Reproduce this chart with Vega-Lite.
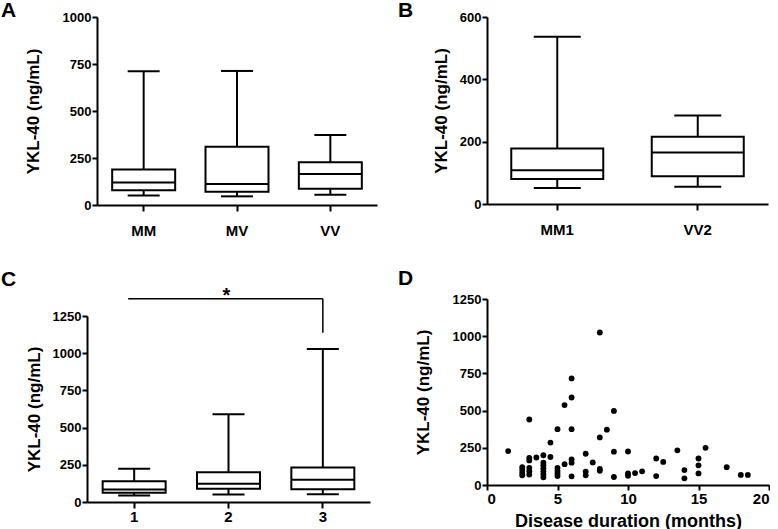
{
  "$schema": "https://vega.github.io/schema/vega-lite/v6.json",
  "padding": 0,
  "background": "white",
  "config": {
    "font": "Liberation Sans",
    "view": {"stroke": null},
    "tick": {"opacity": 1},
    "axis": {
      "grid": false,
      "domainColor": "black",
      "domainWidth": 2,
      "tickColor": "black",
      "tickWidth": 2,
      "tickSize": 5,
      "labelFont": "Liberation Sans",
      "labelFontWeight": "bold",
      "labelFontSize": 13,
      "labelColor": "black",
      "labelPadding": 1,
      "labelOverlap": false,
      "titleFont": "Liberation Sans",
      "titleFontWeight": "bold",
      "titleFontSize": 17,
      "titleColor": "black"
    },
    "title": {
      "font": "Liberation Sans",
      "fontSize": 21,
      "fontWeight": "bold",
      "color": "black",
      "anchor": "start",
      "frame": "group",
      "offset": 0
    }
  },
  "datasets": {
    "a": [
      {"group": "MM", "min": 50, "q1": 78, "median": 120, "q3": 189, "max": 711},
      {"group": "MV", "min": 46, "q1": 71, "median": 112, "q3": 310, "max": 713},
      {"group": "VV", "min": 55, "q1": 87, "median": 165, "q3": 228, "max": 373}
    ],
    "b": [
      {"group": "MM1", "min": 51, "q1": 80, "median": 108, "q3": 178, "max": 537},
      {"group": "VV2", "min": 55, "q1": 89, "median": 165, "q3": 216, "max": 284}
    ],
    "c": [
      {"group": "1", "min": 44, "q1": 63, "median": 84, "q3": 140, "max": 224},
      {"group": "2", "min": 51, "q1": 89, "median": 123, "q3": 200, "max": 590},
      {"group": "3", "min": 52, "q1": 85, "median": 150, "q3": 232, "max": 1028}
    ],
    "sig": [
      {"from": "1", "to": "3", "mid": "2", "y": 1366, "ylow": 1138, "label": "*"}
    ],
    "d": [
      {"months": 1.5, "ykl": 228},
      {"months": 2.5, "ykl": 120}, {"months": 2.5, "ykl": 100}, {"months": 2.5, "ykl": 82}, {"months": 2.5, "ykl": 65},
      {"months": 3, "ykl": 440}, {"months": 3, "ykl": 182}, {"months": 3, "ykl": 165}, {"months": 3, "ykl": 115}, {"months": 3, "ykl": 92}, {"months": 3, "ykl": 70},
      {"months": 3.5, "ykl": 185},
      {"months": 4, "ykl": 200}, {"months": 4, "ykl": 150}, {"months": 4, "ykl": 132}, {"months": 4, "ykl": 112}, {"months": 4, "ykl": 92}, {"months": 4, "ykl": 72}, {"months": 4, "ykl": 52},
      {"months": 4.5, "ykl": 285}, {"months": 4.5, "ykl": 188},
      {"months": 5, "ykl": 375}, {"months": 5, "ykl": 115}, {"months": 5, "ykl": 95}, {"months": 5, "ykl": 78}, {"months": 5, "ykl": 60},
      {"months": 5.5, "ykl": 537}, {"months": 5.5, "ykl": 140},
      {"months": 6, "ykl": 716}, {"months": 6, "ykl": 588}, {"months": 6, "ykl": 375}, {"months": 6, "ykl": 172}, {"months": 6, "ykl": 150}, {"months": 6, "ykl": 58},
      {"months": 7, "ykl": 210}, {"months": 7, "ykl": 90}, {"months": 7, "ykl": 65},
      {"months": 7.5, "ykl": 152},
      {"months": 8, "ykl": 1025}, {"months": 8, "ykl": 320}, {"months": 8, "ykl": 108}, {"months": 8, "ykl": 96},
      {"months": 8.5, "ykl": 372},
      {"months": 9, "ykl": 498}, {"months": 9, "ykl": 224}, {"months": 9, "ykl": 54},
      {"months": 10, "ykl": 225}, {"months": 10, "ykl": 78}, {"months": 10, "ykl": 62},
      {"months": 10.5, "ykl": 80},
      {"months": 11, "ykl": 92},
      {"months": 12, "ykl": 178}, {"months": 12, "ykl": 60},
      {"months": 12.5, "ykl": 155},
      {"months": 13.5, "ykl": 233},
      {"months": 14, "ykl": 100}, {"months": 14, "ykl": 45},
      {"months": 15, "ykl": 178}, {"months": 15, "ykl": 132}, {"months": 15, "ykl": 78},
      {"months": 15.5, "ykl": 250},
      {"months": 17, "ykl": 120},
      {"months": 18, "ykl": 68}, {"months": 18.5, "ykl": 68}
    ]
  },
  "spacing": 21,
  "hconcat": [
    {
      "columns": 2,
      "align": "none",
      "spacing": {"row": 31, "column": 0},
      "concat": [
        {"width": 1, "height": 1, "data": {"values": []}, "mark": "point"},
        {
          "width": 280,
          "height": 188,
          "title": {"text": "A", "dx": -96, "dy": 14},
          "data": {"name": "a"},
          "encoding": {
            "x": {"field": "group", "type": "nominal", "sort": null,
                  "scale": {"paddingInner": 0, "paddingOuter": 0},
                  "axis": {"title": null, "labelAngle": 0, "labelFontSize": 15, "labelPadding": 12, "tickSize": 6}}
          },
          "layer": [
            {"mark": {"type": "rule", "color": "black", "strokeWidth": 2},
             "encoding": {"y": {"field": "min", "type": "quantitative", "title": "YKL-40 (ng/mL)",
                                "scale": {"domain": [0, 1000], "nice": false},
                                "axis": {"values": [0, 250, 500, 750, 1000], "format": "d", "titlePadding": 20}},
                          "y2": {"field": "max"}}},
            {"mark": {"type": "tick", "color": "black", "size": 32, "thickness": 2, "opacity": 1},
             "encoding": {"y": {"field": "min", "type": "quantitative", "title": "YKL-40 (ng/mL)"}}},
            {"mark": {"type": "tick", "color": "black", "size": 32, "thickness": 2, "opacity": 1},
             "encoding": {"y": {"field": "max", "type": "quantitative", "title": "YKL-40 (ng/mL)"}}},
            {"mark": {"type": "bar", "fill": "white", "stroke": "black", "strokeWidth": 2, "size": 63},
             "encoding": {"y": {"field": "q1", "type": "quantitative", "title": "YKL-40 (ng/mL)"}, "y2": {"field": "q3"}}},
            {"mark": {"type": "tick", "color": "black", "size": 63, "thickness": 2, "opacity": 1},
             "encoding": {"y": {"field": "median", "type": "quantitative", "title": "YKL-40 (ng/mL)"}}}
          ]
        },
        {"width": 1, "height": 1, "data": {"values": []}, "mark": "point"},
        {
          "width": 283,
          "height": 186,
          "title": {"text": "C", "dx": -86, "dy": 8.5},
          "data": {"name": "c"},
          "resolve": {"axis": {"y": "independent"}},
          "encoding": {
            "x": {"field": "group", "type": "nominal", "sort": null,
                  "scale": {"paddingInner": 0, "paddingOuter": 0},
                  "axis": {"title": null, "labelAngle": 0, "labelFontSize": 15, "labelPadding": 1, "tickSize": 6}}
          },
          "layer": [
            {"mark": {"type": "rule", "color": "black", "strokeWidth": 2},
             "encoding": {"y": {"field": "min", "type": "quantitative", "title": "YKL-40 (ng/mL)",
                                "scale": {"domain": [0, 1250], "nice": false},
                                "axis": {"values": [0, 250, 500, 750, 1000, 1250], "format": "d", "titlePadding": 9}},
                          "y2": {"field": "max"}}},
            {"mark": {"type": "tick", "color": "black", "size": 32, "thickness": 2, "opacity": 1},
             "encoding": {"y": {"field": "min", "type": "quantitative", "axis": null}}},
            {"mark": {"type": "tick", "color": "black", "size": 32, "thickness": 2, "opacity": 1},
             "encoding": {"y": {"field": "max", "type": "quantitative", "axis": null}}},
            {"mark": {"type": "bar", "fill": "white", "stroke": "black", "strokeWidth": 2, "size": 63},
             "encoding": {"y": {"field": "q1", "type": "quantitative", "axis": null}, "y2": {"field": "q3"}}},
            {"mark": {"type": "tick", "color": "black", "size": 63, "thickness": 2, "opacity": 1},
             "encoding": {"y": {"field": "median", "type": "quantitative", "axis": null}}},
            {"data": {"name": "sig"},
             "mark": {"type": "rule", "color": "black", "strokeWidth": 1.5, "xOffset": -6},
             "encoding": {"x": {"field": "from", "type": "nominal", "title": null}, "x2": {"field": "to"},
                          "y": {"field": "y", "type": "quantitative", "axis": null}}},
            {"data": {"name": "sig"},
             "mark": {"type": "rule", "color": "black", "strokeWidth": 1.5},
             "encoding": {"x": {"field": "to", "type": "nominal", "title": null},
                          "y": {"field": "ylow", "type": "quantitative", "axis": null}, "y2": {"field": "y"}}},
            {"data": {"name": "sig"},
             "mark": {"type": "text", "font": "Liberation Sans", "fontWeight": "bold", "fontSize": 20, "baseline": "alphabetic", "dy": 3, "dx": -2, "color": "black"},
             "encoding": {"x": {"field": "mid", "type": "nominal", "title": null},
                          "y": {"field": "y", "type": "quantitative", "axis": null},
                          "text": {"field": "label"}}}
          ]
        }
      ]
    },
    {
      "spacing": 31,
      "vconcat": [
        {
          "width": 281,
          "height": 187,
          "title": {"text": "B", "dx": -89, "dy": 14},
          "data": {"name": "b"},
          "encoding": {
            "x": {"field": "group", "type": "nominal", "sort": null,
                  "scale": {"paddingInner": 0, "paddingOuter": 0},
                  "axis": {"title": null, "labelAngle": 0, "labelFontSize": 15, "labelPadding": 12, "tickSize": 6}}
          },
          "layer": [
            {"mark": {"type": "rule", "color": "black", "strokeWidth": 2},
             "encoding": {"y": {"field": "min", "type": "quantitative", "title": "YKL-40 (ng/mL)",
                                "scale": {"domain": [0, 600], "nice": false},
                                "axis": {"values": [0, 200, 400, 600], "format": "d", "titlePadding": 9}},
                          "y2": {"field": "max"}}},
            {"mark": {"type": "tick", "color": "black", "size": 47, "thickness": 2, "opacity": 1},
             "encoding": {"y": {"field": "min", "type": "quantitative", "title": "YKL-40 (ng/mL)"}}},
            {"mark": {"type": "tick", "color": "black", "size": 47, "thickness": 2, "opacity": 1},
             "encoding": {"y": {"field": "max", "type": "quantitative", "title": "YKL-40 (ng/mL)"}}},
            {"mark": {"type": "bar", "fill": "white", "stroke": "black", "strokeWidth": 2, "size": 92},
             "encoding": {"y": {"field": "q1", "type": "quantitative", "title": "YKL-40 (ng/mL)"}, "y2": {"field": "q3"}}},
            {"mark": {"type": "tick", "color": "black", "size": 92, "thickness": 2, "opacity": 1},
             "encoding": {"y": {"field": "median", "type": "quantitative", "title": "YKL-40 (ng/mL)"}}}
          ]
        },
        {
          "width": 282,
          "height": 186,
          "title": {"text": "D", "dx": -89},
          "data": {"name": "d"},
          "mark": {"type": "point", "filled": true, "color": "black", "size": 34, "opacity": 1},
          "encoding": {
            "x": {"field": "months", "type": "quantitative", "title": "Disease duration (months)",
                  "scale": {"domain": [0, 20], "nice": false},
                  "axis": {"values": [0, 5, 10, 15, 20], "labelFontSize": 15, "labelPadding": 1, "titlePadding": 6, "titleFontSize": 18}},
            "y": {"field": "ykl", "type": "quantitative", "title": "YKL-40 (ng/mL)",
                  "scale": {"domain": [0, 1250], "nice": false},
                  "axis": {"values": [0, 250, 500, 750, 1000, 1250], "format": "d", "titlePadding": 20}}
          }
        }
      ]
    }
  ]
}
